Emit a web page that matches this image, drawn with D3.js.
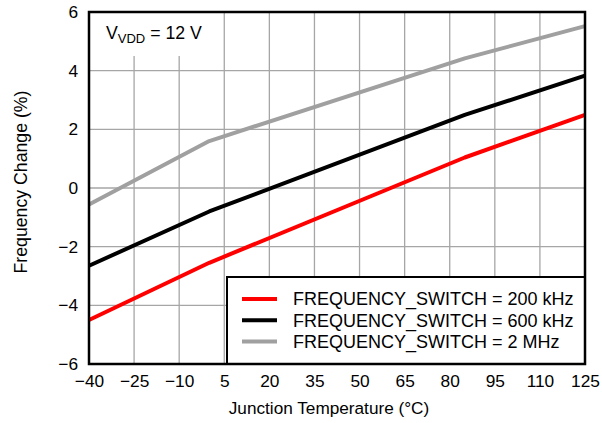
<!DOCTYPE html>
<html>
<head>
<meta charset="utf-8">
<script src="https://cdn.jsdelivr.net/npm/d3@7/dist/d3.min.js"></script>
<style>
  html, body { margin: 0; padding: 0; background: #fff; }
  svg text { font-family: "Liberation Sans", Arial, sans-serif; fill: #000; }
</style>
</head>
<body>
<svg id="chart" width="602" height="423"></svg>
<script>
// ---- data ----
const temperatures = [-40, 0, 85, 125];
const freq200k = [-4.5, -2.55, 1.04, 2.49];
const freq600k = [-2.65, -0.8, 2.49, 3.83];
const freq2M = [-0.56, 1.6, 4.42, 5.52];
const seriesNames = ["FREQUENCY_SWITCH = 200 kHz", "FREQUENCY_SWITCH = 600 kHz", "FREQUENCY_SWITCH = 2 MHz"];
const seriesColors = ["#ff0000", "#000000", "#a0a0a0"];
const xTicks = [-40, -25, -10, 5, 20, 35, 50, 65, 80, 95, 110, 125];
const yTicks = [-6, -4, -2, 0, 2, 4, 6];

const seriesValues = [freq200k, freq600k, freq2M];

const svg = d3.select("#chart");
const L = 89, R = 585, T = 12, B = 364;
const x = d3.scaleLinear().domain([-40, 125]).range([L, R]);
const y = d3.scaleLinear().domain([-6, 6]).range([B, T]);
const fmt = d => (d < 0 ? "\u2212" + Math.abs(d) : String(d));

// gridlines
const grid = svg.append("g");
grid.selectAll("line.v").data(xTicks).join("line")
  .attr("x1", d => x(d)).attr("x2", d => x(d))
  .attr("y1", T).attr("y2", B)
  .attr("stroke", "#a6a6a6").attr("stroke-width", 1.3);
grid.selectAll("line.h").data(yTicks).join("line")
  .attr("x1", L).attr("x2", R)
  .attr("y1", d => y(d)).attr("y2", d => y(d))
  .attr("stroke", "#a6a6a6").attr("stroke-width", 1.3);

// white box behind condition label
svg.append("rect").attr("x", L).attr("y", T).attr("width", 118).attr("height", 44).attr("fill", "#fff");

// lines
const line = d3.line().x((d, i) => x(temperatures[i])).y(d => y(d));
seriesValues.forEach((vals, i) => {
  svg.append("path").datum(vals)
    .attr("d", line)
    .attr("fill", "none")
    .attr("stroke", seriesColors[i])
    .attr("stroke-width", 4)
    .attr("stroke-linejoin", "round");
});

// axes
const xAxis = svg.append("g").attr("transform", `translate(0,${B})`)
  .call(d3.axisBottom(x).tickValues(xTicks).tickSize(0).tickPadding(11).tickFormat(fmt));
const yAxis = svg.append("g").attr("transform", `translate(${L},0)`)
  .call(d3.axisLeft(y).tickValues(yTicks).tickSize(0).tickPadding(11).tickFormat(fmt));
[xAxis, yAxis].forEach(a => {
  a.select(".domain").remove();
  a.selectAll("text").style("font-family", '"Liberation Sans", Arial, sans-serif').style("font-size", "17.3px").attr("fill", "#000");
});

// legend
const lg = svg.append("g");
lg.append("rect").attr("x", 227).attr("y", 277).attr("width", R - 227).attr("height", B - 277)
  .attr("fill", "#fff").attr("stroke", "#000").attr("stroke-width", 2);
seriesNames.forEach((name, i) => {
  const yy = 299 + i * 21.3;
  lg.append("line").attr("x1", 242).attr("x2", 277).attr("y1", yy).attr("y2", yy)
    .attr("stroke", seriesColors[i]).attr("stroke-width", 4);
  lg.append("text").attr("x", 293).attr("y", yy).attr("dy", "0.36em")
    .style("font-size", "18px").text(name);
});

// plot frame
svg.append("rect").attr("x", L).attr("y", T).attr("width", R - L).attr("height", B - T)
  .attr("fill", "none").attr("stroke", "#000").attr("stroke-width", 2.5);

// condition label
const cond = svg.append("text").attr("x", 106).attr("y", 39).style("font-size", "17.7px");
cond.append("tspan").text("V");
cond.append("tspan").attr("dy", 4).style("font-size", "13px").text("VDD");
cond.append("tspan").attr("dy", -4).text(" = 12 V");

// axis titles
svg.append("text").attr("x", 329).attr("y", 414).attr("text-anchor", "middle")
  .style("font-size", "17.2px").text("Junction Temperature (\u00b0C)");
svg.append("text").attr("transform", "translate(26.5,182) rotate(-90)").attr("text-anchor", "middle")
  .style("font-size", "17.7px").text("Frequency Change (%)");
</script>
</body>
</html>
